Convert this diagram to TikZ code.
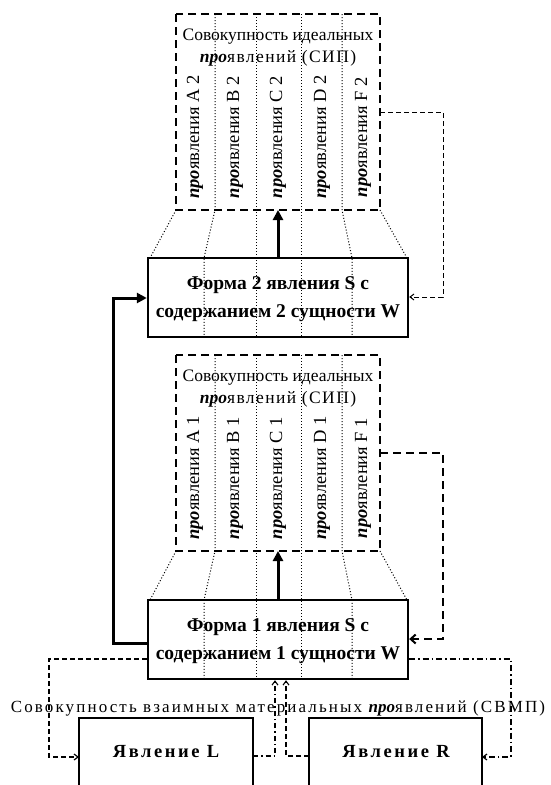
\documentclass[tikz,border=0pt]{standalone}
\usepackage{fontspec}
\setmainfont{Liberation Serif}
\usetikzlibrary{arrows.meta}
\newcommand{\pro}{{\bfseries\itshape про}}
\begin{document}
\begin{tikzpicture}[x=1pt,y=-1pt,
  sipbox/.style={line width=2.4pt, dash pattern=on 8pt off 5pt},
  formbox/.style={draw, line width=2.4pt, minimum width=260pt, minimum height=79pt, inner sep=0pt},
  yavbox/.style={line width=2.4pt},
  dotline/.style={line width=1pt, dotted},
  thickarr/.style={line width=3pt, -{Triangle[length=10pt,width=10pt]}},
  thinarr/.style={-{Straight Barb[length=4pt,width=6pt]}},
  sipttl/.style={font=\fontsize{17.5}{20}\selectfont, inner sep=0pt},
  vtext/.style={rotate=90, font=\fontsize{18.5}{20}\selectfont, inner sep=0pt},
  formtxt/.style={font=\bfseries\fontsize{19.5}{28}\selectfont, align=center, inner sep=0pt},
  yavtxt/.style={font=\bfseries\fontsize{18.5}{20}\selectfont\addfontfeatures{LetterSpace=14}, inner sep=0pt},
]
\useasboundingbox (0,0) rectangle (550,785);
% ---------- upper SIP box ----------
\draw[sipbox] (176,14) rectangle (380,210);
\coordinate (sip2) at (278,210);
\node[sipttl] (t2a) at (278,37) {Совокупность идеальных};
\node[sipttl] (t2b) at (278,58) {\pro\addfontfeatures{LetterSpace=8}явлений (СИП)};
\node[vtext] (a2) at (195,137) {\pro явления A 2};
\node[vtext] (b2) at (235,137) {\pro явления B 2};
\node[vtext] (c2) at (278,137) {\pro явления C 2};
\node[vtext] (d2) at (322,137) {\pro явления D 2};
\node[vtext] (f2) at (363,137) {\pro явления F 2};
% dotted lines upper
\draw[dotline] (176,210) -- (150,258);
\draw[dotline] (215,14) -- (215,210) -- (204,258) -- (204,337);
\draw[dotline] (256,14) -- (256,337);
\draw[dotline] (301,14) -- (301,337);
\draw[dotline] (342,14) -- (342,210) -- (352,258) -- (352,337);
\draw[dotline] (380,210) -- (407,258);
% Form 2
\node[formbox] (f2box) at (278,297.5) {};
\node[formtxt] (f2t1) at (278,285) {Форма 2 явления S с};
\node[formtxt] (f2t2) at (278,313) {содержанием 2 сущности W};
\draw[thickarr] (f2box.north) -- (sip2);
% ---------- lower SIP box ----------
\draw[sipbox] (176,355) rectangle (380,551);
\coordinate (sip1) at (278,551);
\node[sipttl] (t1a) at (278,378) {Совокупность идеальных};
\node[sipttl] (t1b) at (278,399) {\pro\addfontfeatures{LetterSpace=8}явлений (СИП)};
\node[vtext] (a1) at (195,478) {\pro явления A 1};
\node[vtext] (b1) at (235,478) {\pro явления B 1};
\node[vtext] (c1) at (278,478) {\pro явления C 1};
\node[vtext] (d1) at (322,478) {\pro явления D 1};
\node[vtext] (ff1) at (363,478) {\pro явления F 1};
\draw[dotline] (176,551) -- (150,600);
\draw[dotline] (215,355) -- (215,551) -- (204,600) -- (204,679);
\draw[dotline] (256,355) -- (256,679);
\draw[dotline] (301,355) -- (301,679);
\draw[dotline] (342,355) -- (342,551) -- (352,600) -- (352,679);
\draw[dotline] (380,551) -- (407,600);
% Form 1
\node[formbox] (f1box) at (278,639.5) {};
\node[formtxt] (f1t1) at (278,627) {Форма 1 явления S с};
\node[formtxt] (f1t2) at (278,655) {содержанием 1 сущности W};
\draw[thickarr] (f1box.north) -- (sip1);
% thick feedback line
\draw[thickarr] (f1box.west |- 0,643) -- (113,643) -- (113,298) -- (f2box.west |- 0,298);
% right dashed connectors
\coordinate (r2a) at (380,112);
\draw[line width=1pt, dash pattern=on 5pt off 3pt, thinarr] (r2a) -- (443,112) -- (443,297) -- (f2box.east |- 0,297);
\coordinate (r1a) at (380,453);
\draw[line width=2pt, dash pattern=on 8pt off 5pt, -{Straight Barb[length=5pt,width=9pt]}] (r1a) -- (443,453) -- (443,639) -- (f1box.east |- 0,639);
% ---------- bottom ----------
\node[font=\fontsize{17}{20}\selectfont\addfontfeatures{LetterSpace=12.5}, inner sep=0pt] (svmp) at (278,708) {Совокупность взаимных материальных {\itshape\bfseries\addfontfeatures{LetterSpace=0}про}явлений (СВМП)};
\draw[yavbox] (79,785) -- (79,718) -- (253,718) -- (253,785);
\draw[yavbox] (309,785) -- (309,718) -- (482,718) -- (482,785);
\node[yavtxt] (L) at (166,752) {Явление L};
\node[yavtxt] (R) at (396,752) {Явление R};
\coordinate (Lw) at (79,757);
\coordinate (Rw) at (482,757);
\draw[line width=1.2pt, dash pattern=on 5pt off 3pt, thinarr] (f1box.west |- 0,659) -- (49,659) -- (49,757) -- (Lw);
\draw[line width=1.2pt, dash pattern=on 6pt off 3pt on 1.5pt off 3pt, thinarr] (f1box.east |- 0,659) -- (511,659) -- (511,757) -- (Rw);
\draw[line width=1.1pt, dash pattern=on 5pt off 3pt on 1.5pt off 3pt, thinarr] (253,756) -- (275,756) -- (f1box.south -| 275,0);
\draw[line width=1.1pt, dash pattern=on 5pt off 3pt, thinarr] (309,756) -- (286,756) -- (f1box.south -| 286,0);
\end{tikzpicture}
\end{document}
